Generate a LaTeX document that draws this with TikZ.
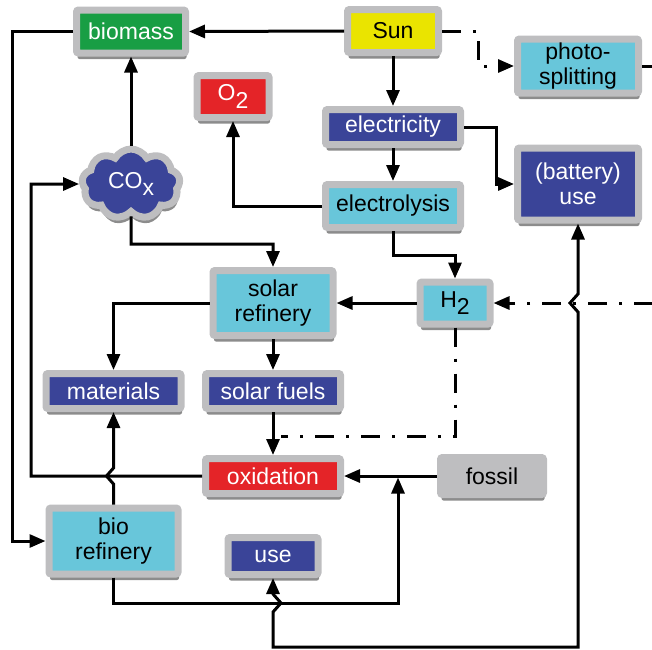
\documentclass[tikz,border=0pt]{standalone}
\usepackage{fontspec}
\setmainfont{Liberation Sans}
\usetikzlibrary{arrows.meta,shapes.symbols,shadows}
\definecolor{boxgray}{RGB}{190,190,192}
\definecolor{bgreen}{RGB}{24,158,68}
\definecolor{byellow}{RGB}{234,228,0}
\definecolor{bcyan}{RGB}{104,198,218}
\definecolor{bblue}{RGB}{58,68,152}
\definecolor{bred}{RGB}{228,36,40}
\newcommand\lowsub[1]{\raisebox{-0.32em}{#1}}
\tikzset{
  boxshadow/.style={drop shadow={shadow xshift=1pt, shadow yshift=-6pt, opacity=0.45, fill=black}},
  box/.style={rectangle, draw=boxgray, line width=7pt, rounded corners=2pt, inner sep=0pt,
    align=center, font=\fontsize{23}{25.5}\selectfont, boxshadow},
  cloudbox/.style={cloud, cloud puffs=9, cloud puff arc=120, cloud ignores aspect,
    draw=boxgray, line width=7pt, fill=bblue, text=white, inner sep=0pt,
    minimum width=98pt, minimum height=70pt, font=\fontsize{23}{25.5}\selectfont, boxshadow},
  tip/.style={-{Triangle[length=16pt,width=13pt]}},
  arr/.style={line width=3pt, tip},
  dd/.style={line width=3pt, dash pattern=on 19pt off 12pt on 3pt off 12pt},
  twoway/.style={line width=3pt, {Triangle[length=16pt,width=13pt]}-{Triangle[length=16pt,width=13pt]}}
}
\begin{document}
\begin{tikzpicture}[x=1pt,y=-1pt]
\useasboundingbox (0,0) rectangle (652,649);
\clip (0,0) rectangle (652,649);
% nodes
\node[box, fill=bgreen, text=white, minimum width=109pt, minimum height=43pt] (biomass) at (131,31.5) {biomass};
\node[box, fill=byellow, minimum width=91pt, minimum height=43pt] (sun) at (393,31) {Sun};
\node[box, fill=bcyan, minimum width=121pt, minimum height=54pt] (photo) at (578,66) {photo-\\splitting};
\node[box, fill=bblue, text=white, minimum width=135pt, minimum height=35pt] (elec) at (393,127) {electricity};
\node[box, fill=bblue, text=white, minimum width=121pt, minimum height=72pt] (batt) at (578,184) {(battery)\\use};
\node[box, fill=bcyan, minimum width=135pt, minimum height=43pt] (lysis) at (393,206) {electrolysis};
\node[box, fill=bred, text=white, minimum width=72pt, minimum height=42pt] (o2) at (233,96.5) {O\lowsub{2}};
\node[cloudbox] (cox) at (131,184) {CO\lowsub{x}};
\node[box, fill=bcyan, minimum width=120pt, minimum height=65pt] (solref) at (273,303) {solar\\refinery};
\node[box, fill=bcyan, minimum width=70pt, minimum height=42pt] (h2) at (455,303) {H\lowsub{2}};
\node[box, fill=bblue, text=white, minimum width=135pt, minimum height=35pt] (mat) at (113.5,391) {materials};
\node[box, fill=bblue, text=white, minimum width=135pt, minimum height=35pt] (fuels) at (273,391) {solar fuels};
\node[box, fill=bred, text=white, minimum width=135pt, minimum height=35pt] (oxid) at (273,476) {oxidation};
\node[box, fill=boxgray, minimum width=103pt, minimum height=37pt] (fossil) at (492,476) {fossil};
\node[box, fill=bcyan, minimum width=129pt, minimum height=66pt] (bioref) at (113.5,541) {bio\\refinery};
\node[box, fill=bblue, text=white, minimum width=90pt, minimum height=37pt] (use) at (273,556) {use};
\coordinate (hj) at (281,436);
\coordinate (fj) at (398,477.5);
% connectors
\draw[arr] (sun.west) -- (biomass.east);
\draw[arr] (biomass.west) -- (12,31.5) |- (bioref.west);
\draw[arr] (cox.north) -- (biomass.south);
\draw[dd, tip] (sun.east) -- (478,31) |- (photo.west);
\draw[arr] (sun.south) -- (elec.north);
\draw[arr] (elec.south) -- (lysis.north);
\draw[arr] (elec.east) -- (496,127) |- (batt.west);
\draw[arr] (lysis.west) -| (o2.south);
\draw[arr] (lysis.south) -- (393,255) -| (h2.north);
\draw[arr] (cox.south) -- (131,244) -| (solref.north);
\draw[arr] (h2.west) -- (solref.east);
\draw[dd, tip] (photo.east) -- (690,66) -- (690,303) -- (h2.east);
\draw[arr] (solref.west) -| (mat.north);
\draw[arr] (solref.south) -- (fuels.north);
\draw[arr] (fuels.south) -- (oxid.north);
\draw[dd] (h2.south) |- (hj);
\draw[arr] (oxid.west) -| (31,184) -- (cox.west);
\draw[arr] (bioref.north) -- (113.5,484) -- (106.5,476) -- (113.5,468) -- (mat.south);
\draw[arr] (fossil.west) -- (oxid.east);
\draw[arr] (bioref.south) |- (398,603) -- (fj);
\draw[twoway] (use.south) -- (273,594) -- (281,603) -- (273,612) -- (273,647) -- (578,647)
  -- (578,312) -- (570,303) -- (578,294) -- (batt.south);
\end{tikzpicture}
\end{document}
